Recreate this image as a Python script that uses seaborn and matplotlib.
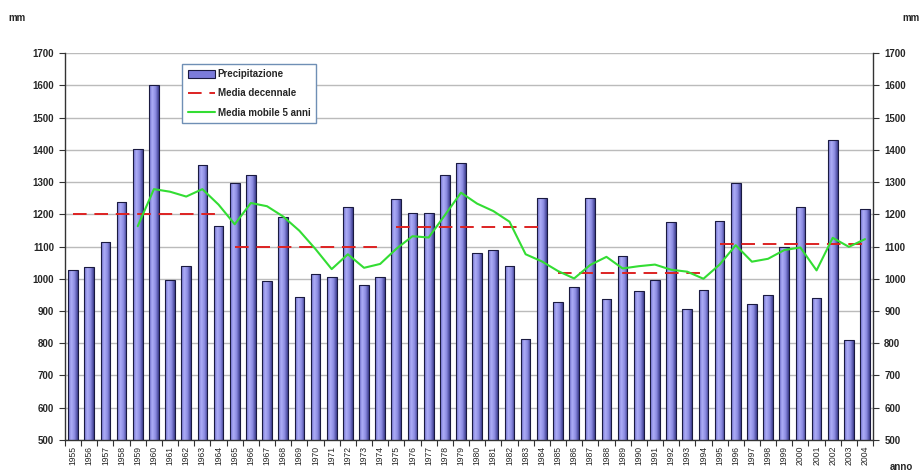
import numpy as np
import pandas as pd

import matplotlib
matplotlib.use('Agg')
import matplotlib.pyplot as plt
from matplotlib.colors import LinearSegmentedColormap
from matplotlib.lines import Line2D
from matplotlib.patches import Patch
from matplotlib.ticker import FixedLocator, MultipleLocator
import seaborn as sns

years = list(range(1955, 2005))
precip = [1027, 1035, 1113, 1238, 1402, 1600, 995, 1040, 1353, 1163,
          1296, 1321, 992, 1191, 943, 1015, 1007, 1223, 980, 1006,
          1248, 1203, 1205, 1321, 1358, 1079, 1088, 1039, 814, 1250,
          927, 973, 1252, 937, 1072, 961, 996, 1175, 905, 964,
          1180, 1296, 921, 949, 1097, 1223, 939, 1429, 809, 1215]
# 5-year moving average (1959-2004)
mov_years = list(range(1959, 2005))
mov_avg = [1163, 1278, 1270, 1255, 1278, 1230, 1169, 1235, 1225, 1193,
           1149, 1092, 1030, 1076, 1034, 1046, 1093, 1132, 1128, 1197,
           1267, 1233, 1210, 1177, 1076, 1054, 1024, 1001, 1043, 1068,
           1032, 1039, 1044, 1028, 1022, 1000, 1044, 1104, 1053, 1062,
           1089, 1097, 1026, 1127, 1099, 1123]
# decade means (dashed red)
dec_start = [1955, 1965, 1975, 1985, 1995]
dec_end = [1964, 1974, 1984, 1994, 2004]
dec_mean = [1200, 1100, 1162, 1019, 1108]

YMIN, YMAX = 500, 1700

sns.set_style('white')
plt.rcParams['font.family'] = ['Liberation Sans', 'DejaVu Sans']

fig = plt.figure(figsize=(9.22, 4.73), dpi=100)
ax = fig.add_axes([0.0705, 0.0698, 0.8765, 0.818])

df = pd.DataFrame({'anno': [str(y) for y in years], 'mm': precip})
sns.barplot(data=df, x='anno', y='mm', ax=ax, width=0.6, color='#7b7bda',
            edgecolor='#1a1a40', linewidth=0.8, saturation=1, zorder=2)

# cylinder-like shading on the bars
cmap = LinearSegmentedColormap.from_list(
    'bar', ['#6e6ecc', '#adadf6', '#8c8ce2', '#3c3c8e'], N=256)
grad = np.linspace(0, 1, 64).reshape(1, -1)
for p in list(ax.patches):
    x0, y0, w, h = p.get_x(), p.get_y(), p.get_width(), p.get_height()
    im = ax.imshow(grad, cmap=cmap, aspect='auto', zorder=2,
                   extent=[x0, x0 + w, max(y0, YMIN), y0 + h],
                   interpolation='bilinear')
    im.set_clip_path(p)
    p.set_facecolor('none')
    p.set_zorder(3)

pos = {y: i for i, y in enumerate(years)}
for s, e, m in zip(dec_start, dec_end, dec_mean):
    sns.lineplot(x=[pos[s], pos[e]], y=[m, m], ax=ax, color='#dd2222',
                 linewidth=1.4, zorder=4).lines[-1].set_dashes([7, 4])

sns.lineplot(x=[pos[y] for y in mov_years], y=mov_avg, ax=ax,
             color='#33dd33', linewidth=1.5, zorder=5)

ax.set_xlim(-0.5, len(years) - 0.5)
ax.set_ylim(YMIN, YMAX)
ax.yaxis.set_major_locator(MultipleLocator(100))
ax.yaxis.grid(True, color='#bbbbbb', linewidth=1)
ax.xaxis.grid(False)
ax.set_axisbelow(True)
ax.set_xlabel('')
ax.set_ylabel('')

for side in ['left', 'right', 'bottom']:
    ax.spines[side].set_visible(True)
    ax.spines[side].set_color('#333333')
    ax.spines[side].set_linewidth(1)
ax.spines['top'].set_visible(False)

ax.tick_params(axis='y', which='major', left=True, right=True,
               labelleft=True, labelright=True, length=4, width=0.8,
               direction='out', color='#333333', labelsize=7, pad=4)
for t in ax.yaxis.get_major_ticks():
    t.label1.set_fontweight('bold')
    t.label2.set_fontweight('bold')

ax.xaxis.set_minor_locator(FixedLocator(np.arange(-0.5, len(years), 1)))
ax.tick_params(axis='x', which='minor', bottom=True, length=4, width=0.8,
               color='#333333')
ax.tick_params(axis='x', which='major', length=0, labelsize=6.2, pad=4,
               labelrotation=90)

handles = [Patch(facecolor='#7b7bda', edgecolor='#1a1a40', linewidth=0.8),
           Line2D([], [], color='#dd2222', linewidth=1.4, dashes=[7, 4]),
           Line2D([], [], color='#33dd33', linewidth=1.5)]
leg = ax.legend(handles, ['Precipitazione', 'Media decennale', 'Media mobile 5 anni'],
                loc='upper left', bbox_to_anchor=(0.145, 0.972), frameon=True,
                fancybox=False, edgecolor='#6f8fb5', framealpha=1,
                prop={'weight': 'bold', 'size': 7}, handlelength=2.8,
                handleheight=0.9, borderpad=0.55, labelspacing=0.95,
                handletextpad=0.3, borderaxespad=0)
leg.get_frame().set_linewidth(1)

fig.text(0.009, 0.962, 'mm', fontsize=7, fontweight='bold', va='center')
fig.text(0.979, 0.962, 'mm', fontsize=7, fontweight='bold', va='center')
fig.text(0.965, 0.012, 'anno', fontsize=7, fontweight='bold', va='center')

fig.savefig('out.png', dpi=100)
plt.close()
